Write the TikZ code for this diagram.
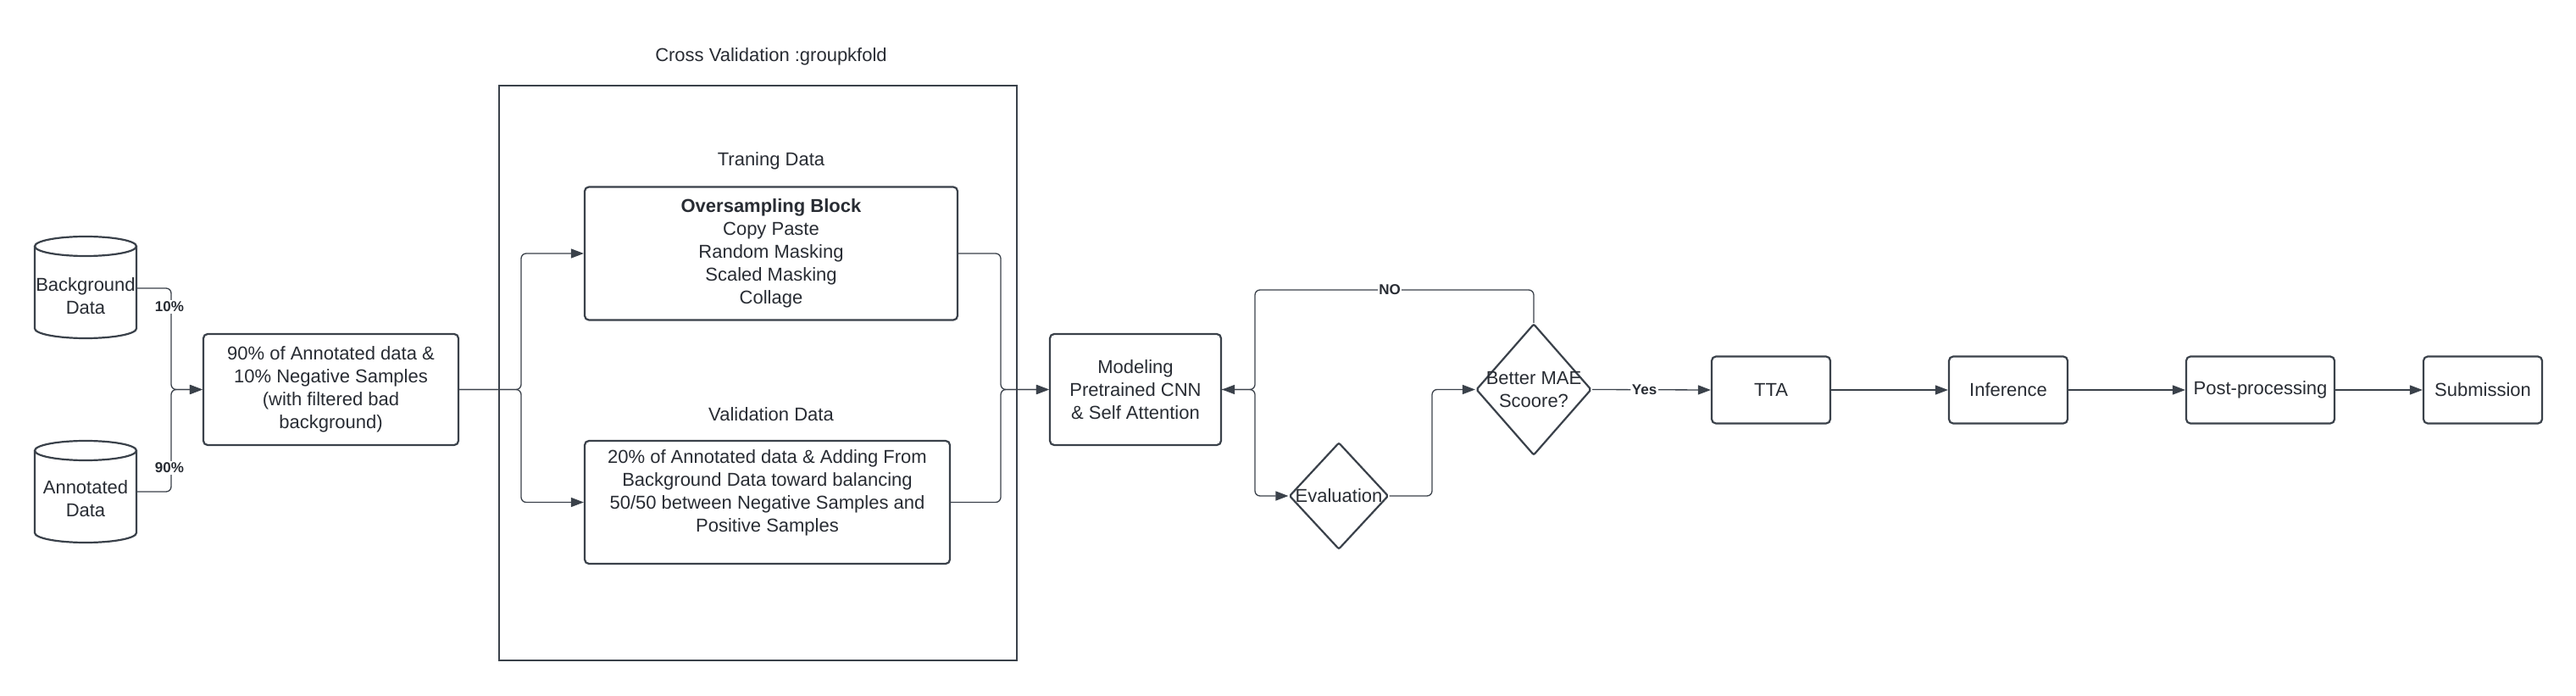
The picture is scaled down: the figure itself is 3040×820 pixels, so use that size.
\documentclass[tikz,border=0pt]{standalone}
\usepackage{fontspec}
\setmainfont{Liberation Sans}
\usetikzlibrary{arrows.meta,shapes.geometric}
\definecolor{ln}{RGB}{58,65,74}
\definecolor{tx}{RGB}{40,44,51}
\begin{document}
\begin{tikzpicture}[x=1pt,y=1pt,
  every node/.style={text=tx, font=\fontsize{22}{27}\selectfont},
  every label/.style={text=tx, font=\fontsize{22}{27}\selectfont, inner sep=0},
  box/.style={draw=ln, line width=2.2, rounded corners=5, align=center, inner sep=0},
  conn/.style={draw=ln, line width=1.3, rounded corners=6},
  arr/.style={conn, -{Triangle[length=15pt,width=11pt]}},
  dia/.style={diamond, draw=ln, line width=2.2, rounded corners=2, inner sep=0},
  lbl/.style={font=\bfseries\fontsize{17}{20}\selectfont, fill=white, inner sep=1.5},
  cyl/.style={minimum width=120, inner sep=0, align=center},
  cylline/.style={draw=ln, line width=2.2},
]
\useasboundingbox (0,0) rectangle (3040,820);

% cylinders
\draw[cylline] (41,529.5) -- (41,432.5) arc[start angle=180,end angle=360,x radius=60,y radius=11.5] -- (161,529.5);
\draw[cylline] (101,529.5) ellipse[x radius=60,y radius=11.5];
\node[cyl] (bg) at (101,471) {Background\\Data};
\draw[cylline] (41,288.5) -- (41,191.5) arc[start angle=180,end angle=360,x radius=60,y radius=11.5] -- (161,288.5);
\draw[cylline] (101,288.5) ellipse[x radius=60,y radius=11.5];
\node[cyl] (an) at (101,232) {Annotated\\Data};

% boxes
\node[box, minimum width=301, minimum height=131] (prep) at (390.5,360.5) {90\% of Annotated data \&\\10\% Negative Samples\\(with filtered bad\\background)};
\node[draw=ln, line width=2.2, minimum width=611, minimum height=678, inner sep=0] (frame) at (894.5,380) {};
\node (cvt) at (910,753) {Cross Validation :groupkfold};
\node (trt) at (910,630) {Traning Data};
\node (vat) at (910,331) {Validation Data};
\node[box, minimum width=440, minimum height=157] (over) at (910,521) {\textbf{Oversampling Block}\\Copy Paste\\Random Masking\\Scaled Masking\\Collage};
\node[box, minimum width=431, minimum height=145, label={[align=center, yshift=11]center:{20\% of Annotated data \& Adding From\\Background Data toward balancing\\50/50 between Negative Samples and\\Positive Samples}}] (val) at (905.5,227.5) {};
\node[box, minimum width=202, minimum height=131] (model) at (1340,360.5) {Modeling\\Pretrained CNN\\\& Self Attention};
\node[dia, minimum width=117, minimum height=126, label=center:Evaluation] (eval) at (1580,235) {};
\node[dia, minimum width=136, minimum height=155, label={[align=center]center:{Better MAE\\Scoore?}}] (better) at (1810,360.5) {};
\node[box, minimum width=140, minimum height=79] (tta) at (2090,360) {TTA};
\node[box, minimum width=140, minimum height=79] (inf) at (2370,360) {Inference};
\node[box, minimum width=175, minimum height=79] (post) at (2667.5,360) {Post-processing};
\node[box, minimum width=140, minimum height=79] (sub) at (2930,360) {Submission};

% connectors
\coordinate (j0) at (202,360.5);
\draw[arr] ([yshift=9]bg.east) -| (j0) -- (prep.west);
\draw[arr] ([yshift=8]an.east) -| (j0) -- (prep.west);
\node[lbl] (p10) at (200,458) {10\%};
\node[lbl] (p90) at (200,268) {90\%};

\coordinate (s1) at (615,360.5);
\draw[arr] (prep.east) -- (s1) |- (over.west);
\draw[arr] (prep.east) -- (s1) |- (val.west);
\coordinate (s2) at (1181,360.5);
\draw[arr] (over.east) -| (s2) -- (model.west);
\draw[arr] (val.east) -| (s2) -- (model.west);

\coordinate (k) at (1481,360.5);
\coordinate (ktop) at (1481,478);
\draw[arr] (better.north) |- (ktop) |- (model.east);
\draw[arr] (model.east) -- (k) |- (eval.west);
\coordinate (e2) at (1690,235);
\draw[arr] (eval.east) -- (e2) |- (better.west);
\node[lbl] (no) at (1640,478) {NO};
\draw[arr] (better.east) -- node[lbl, pos=0.44] (yes) {Yes} (tta.west);
\draw[arr] (tta.east) -- (inf.west);
\draw[arr] (inf.east) -- (post.west);
\draw[arr] (post.east) -- (sub.west);
\end{tikzpicture}
\end{document}
